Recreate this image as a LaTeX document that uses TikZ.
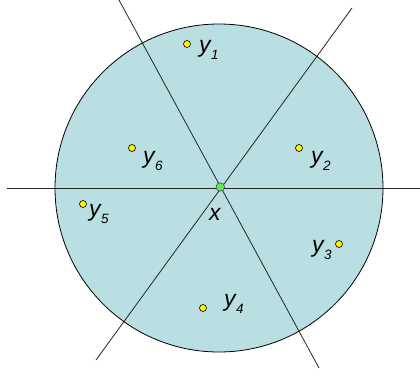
\documentclass[tikz,border=0pt]{standalone}
\usepackage{fontspec}
\setmainfont{Liberation Sans}
\definecolor{disk}{HTML}{B9DFE2}
\definecolor{dotgreen}{HTML}{5EE85E}
\newcommand\mylab[1]{y\kern0.3pt\raisebox{-7pt}{\fontsize{13.5}{14}\selectfont #1}}
\tikzset{
  lab/.style={anchor=base west, inner sep=0pt, font=\fontsize{23}{23}\selectfont\itshape},
  ydot/.style={circle, draw=black, fill=yellow, line width=0.6pt, minimum size=7pt, inner sep=0pt},
  gdot/.style={circle, draw=black!70, fill=dotgreen, line width=0.6pt, minimum size=8.5pt, inner sep=0pt},
  sep/.style={draw=black!85, line width=0.8pt}
}
\begin{document}
\begin{tikzpicture}[x=1pt,y=-1pt]
\useasboundingbox (0,0) rectangle (420,375);
\fill[disk] (219,188) circle[radius=164];
% separating lines
\coordinate (h1) at (7,188.5);
\coordinate (h2) at (420,188.5);
\coordinate (a1) at (119,0);
\coordinate (a2) at (319,368);
\coordinate (b1) at (352,8);
\coordinate (b2) at (96,360);
\draw[sep] (h1) -- (h2);
\draw[sep] (a1) -- (a2);
\draw[sep] (b1) -- (b2);
\draw[black, line width=0.8pt] (219,188) circle[radius=164];
% points
\node[gdot] (x) at (220.3,187) {};
\node[ydot] (p1) at (187,44) {};
\node[ydot] (p2) at (299,148) {};
\node[ydot] (p3) at (339,244) {};
\node[ydot] (p4) at (203,308) {};
\node[ydot] (p5) at (83,204) {};
\node[ydot] (p6) at (132,148) {};
% labels
\node[lab] (l1) at (199,52) {\mylab{1}};
\node[lab] (l2) at (311,163) {\mylab{2}};
\node[lab] (l3) at (312,252) {\mylab{3}};
\node[lab] (l4) at (224,306) {\mylab{4}};
\node[lab] (l5) at (89,216) {\mylab{5}};
\node[lab] (l6) at (143,163) {\mylab{6}};
\node[lab] (lx) at (209,220) {x};
\end{tikzpicture}
\end{document}
